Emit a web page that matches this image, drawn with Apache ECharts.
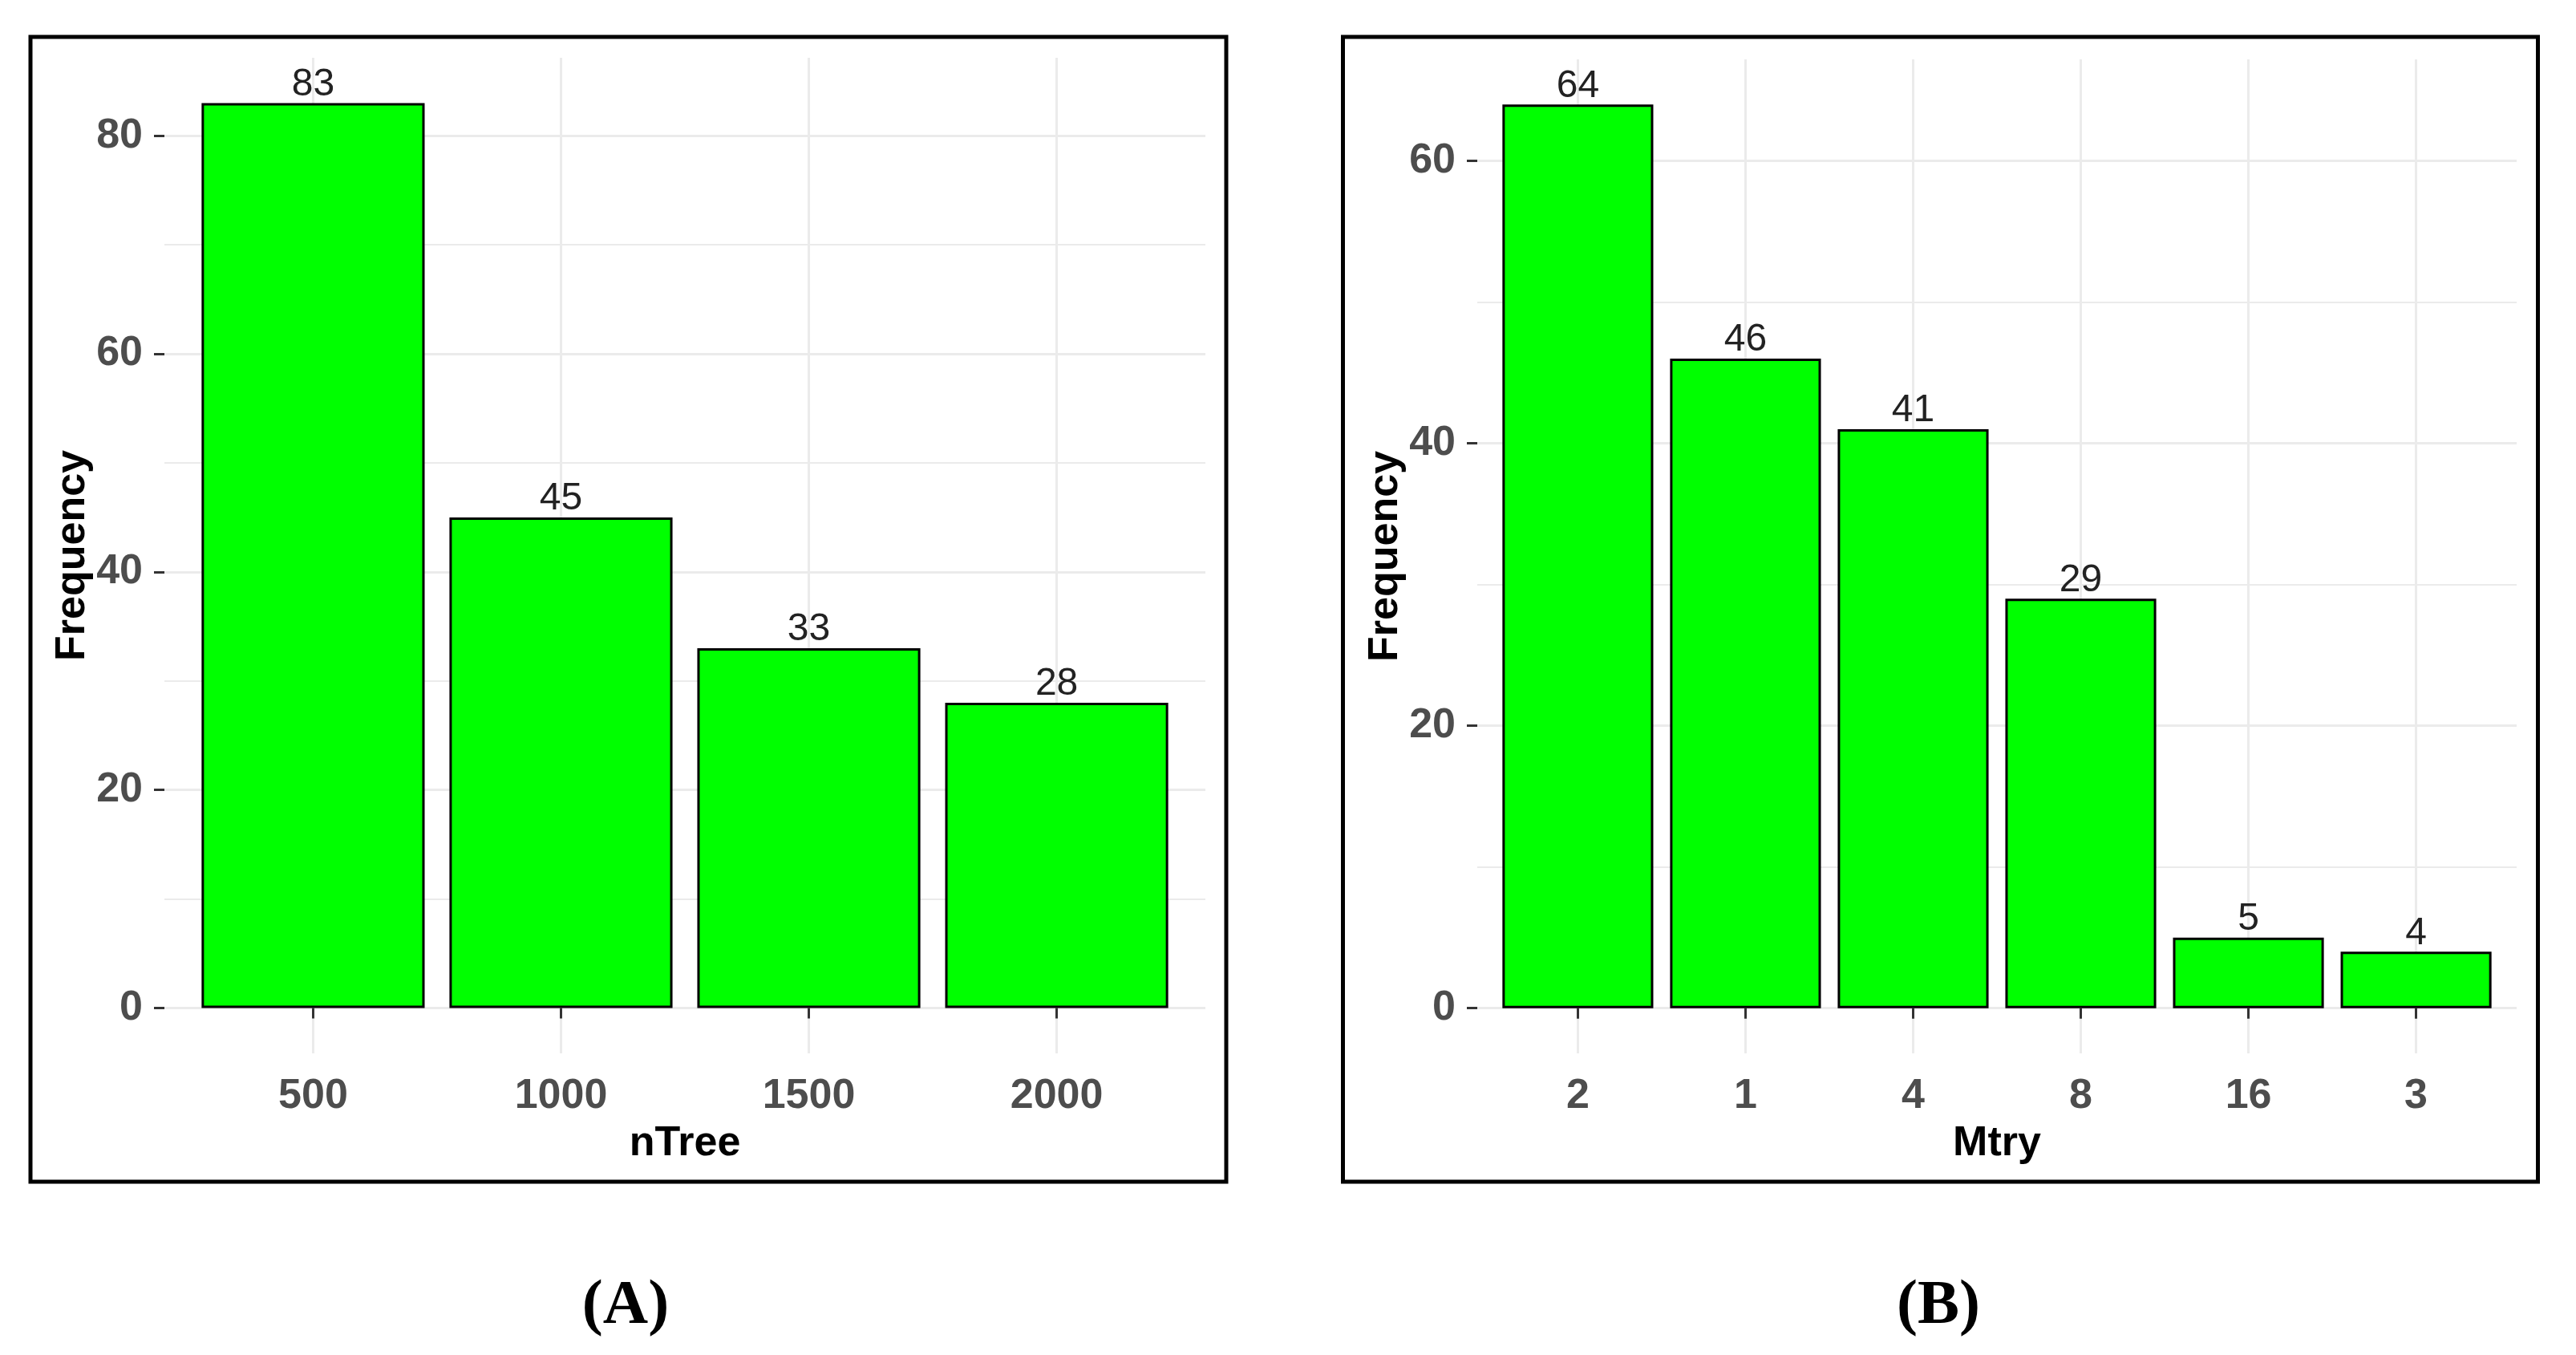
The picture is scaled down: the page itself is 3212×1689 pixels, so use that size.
<!DOCTYPE html>
<html><head><meta charset="utf-8">
<script src="https://cdn.jsdelivr.net/npm/echarts@6/dist/echarts.min.js"></script>
<style>html,body{margin:0;padding:0;background:#fff}#c{width:3212px;height:1689px}</style>
</head><body><div id="c"></div>
<script>
// ---- data ----
const nTreeCategories = ['500', '1000', '1500', '2000'];
const nTreeFrequency = [83, 45, 33, 28];
const mtryCategories = ['2', '1', '4', '8', '16', '3'];
const mtryFrequency = [64, 46, 41, 29, 5, 4];
const nTreeYTicks = [0, 20, 40, 60, 80];
const nTreeYMinorTicks = [10, 30, 50, 70];
const mtryYTicks = [0, 20, 40, 60];
const mtryYMinorTicks = [10, 30, 50];
const panelLabels = ['(A)', '(B)'];
const xTitles = ['nTree', 'Mtry'];
const yTitle = 'Frequency';

// ---- styles ----
const FONT = '"Liberation Sans", Arial, sans-serif';
const GRID_COLOR = '#EBEBEB';
const TICK_COLOR = '#333333';

function positions(n) { return Array.from({length: n}, (_, i) => i + 1); }
function yMax(vals) { return Math.max(...vals) * 1.05; }
function yMin(vals) { return -Math.max(...vals) * 0.05; }

function xAxisFor(gridIndex, cats, title) {
  const pos = positions(cats.length);
  return {
    type: 'value', gridIndex, min: 0.4, max: cats.length + 0.6,
    name: title, nameLocation: 'middle', nameGap: 87,
    nameTextStyle: {fontSize: 52, fontWeight: 'bold', color: '#000', fontFamily: FONT},
    axisLine: {show: false},
    axisTick: {show: true, customValues: pos, length: 13, lineStyle: {color: TICK_COLOR, width: 3}},
    axisLabel: {show: true, customValues: pos, margin: 28, fontSize: 52, fontWeight: 'bold',
      color: '#4D4D4D', fontFamily: FONT, formatter: v => cats[Math.round(v) - 1]},
    splitLine: {show: true, lineStyle: {color: GRID_COLOR, width: 3}}
  };
}
function yAxisFor(gridIndex, vals, ticks) {
  return {
    type: 'value', gridIndex, min: yMin(vals), max: yMax(vals),
    name: yTitle, nameLocation: 'middle', nameGap: 88, nameRotate: 90,
    nameTextStyle: {fontSize: 52, fontWeight: 'bold', color: '#000', fontFamily: FONT},
    axisLine: {show: false},
    axisTick: {show: true, customValues: ticks, length: 13, lineStyle: {color: TICK_COLOR, width: 3}},
    axisLabel: {show: true, customValues: ticks, margin: 27, fontSize: 52, fontWeight: 'bold',
      color: '#4D4D4D', fontFamily: FONT},
    splitLine: {show: true, lineStyle: {color: GRID_COLOR, width: 3}}
  };
}
function yMinorAxisFor(gridIndex, vals, ticks) {
  return {
    type: 'value', gridIndex, min: yMin(vals), max: yMax(vals), position: 'left',
    axisLine: {show: false}, axisLabel: {show: false},
    axisTick: {show: false, customValues: ticks},
    splitLine: {show: true, lineStyle: {color: GRID_COLOR, width: 2}}
  };
}
function barSeries(xi, yi, vals) {
  return {
    type: 'bar', xAxisIndex: xi, yAxisIndex: yi,
    data: vals.map((v, i) => [i + 1, v]),
    barWidth: '90%',
    itemStyle: {color: '#00FF00', borderColor: '#000', borderWidth: 3},
    label: {show: true, position: 'top', distance: -1, fontSize: 48, color: '#222',
      fontFamily: FONT, formatter: p => p.value[1]},
    z: 3
  };
}

const chart = echarts.init(document.getElementById('c'), null, {renderer: 'canvas'});
chart.setOption({
  backgroundColor: '#fff',
  animation: false,
  grid: [
    {left: 205, right: 3212 - 1503, top: 72, bottom: 1689 - 1313, containLabel: false},
    {left: 1842, right: 3212 - 3138, top: 74, bottom: 1689 - 1313, containLabel: false}
  ],
  xAxis: [xAxisFor(0, nTreeCategories, xTitles[0]), xAxisFor(1, mtryCategories, xTitles[1])],
  yAxis: [
    yAxisFor(0, nTreeFrequency, nTreeYTicks),
    yMinorAxisFor(0, nTreeFrequency, nTreeYMinorTicks),
    yAxisFor(1, mtryFrequency, mtryYTicks),
    yMinorAxisFor(1, mtryFrequency, mtryYMinorTicks)
  ],
  series: [barSeries(0, 0, nTreeFrequency), barSeries(1, 2, mtryFrequency)],
  graphic: [
    {type: 'rect', silent: true, shape: {x: 38, y: 46, width: 1491, height: 1427},
      style: {fill: 'none', stroke: '#000', lineWidth: 5}},
    {type: 'rect', silent: true, shape: {x: 1674.5, y: 46, width: 1490, height: 1427},
      style: {fill: 'none', stroke: '#000', lineWidth: 5}},
    {type: 'text', silent: true, x: 780, y: 1629,
      style: {text: panelLabels[0], font: 'bold 78px "Liberation Serif", "Times New Roman", serif',
        fill: '#000', textAlign: 'center', textVerticalAlign: 'middle'}},
    {type: 'text', silent: true, x: 2417, y: 1629,
      style: {text: panelLabels[1], font: 'bold 78px "Liberation Serif", "Times New Roman", serif',
        fill: '#000', textAlign: 'center', textVerticalAlign: 'middle'}}
  ]
});
</script></body></html>
